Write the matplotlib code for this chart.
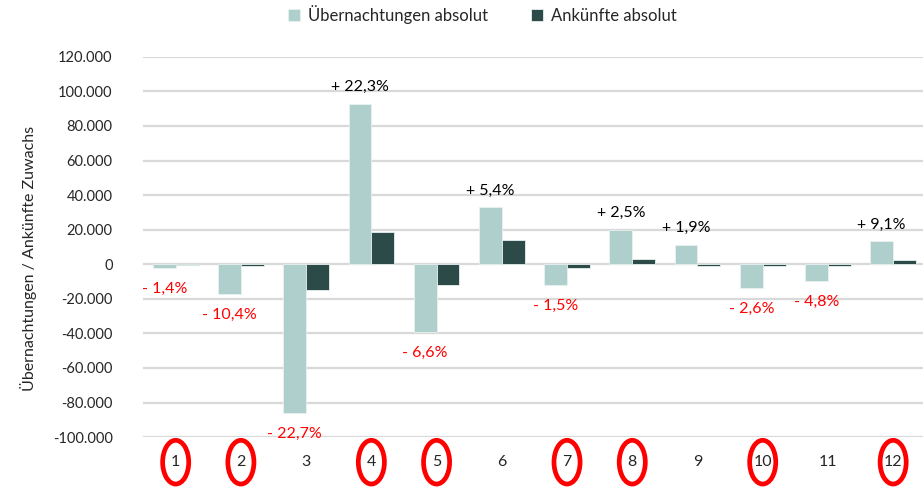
import matplotlib
matplotlib.use("Agg")
import matplotlib.pyplot as plt
from matplotlib.patches import Ellipse
from matplotlib.ticker import FuncFormatter
import numpy as np

plt.rcParams["font.family"] = ["Lato", "DejaVu Sans"]

# data
months = ["1", "2", "3", "4", "5", "6", "7", "8", "9", "10", "11", "12"]
uebernachtungen = [-2000, -17000, -86000, 92800, -39200, 33000,
                   -11800, 20100, 11200, -13500, -9800, 13200]
ankuenfte = [-300, -1000, -14700, 18500, -11800, 14000,
             -2000, 3300, -1000, -1000, -1000, 2300]
pct_labels = ["- 1,4%", "- 10,4%", "- 22,7%", "+ 22,3%", "- 6,6%", "+ 5,4%",
              "- 1,5%", "+ 2,5%", "+ 1,9%", "- 2,6%", "- 4,8%", "+ 9,1%"]
circled = ["1", "2", "4", "5", "7", "8", "10", "12"]

light = "#AECFCB"
dark = "#2C4B48"
grid_col = "#D9D9D9"

fig = plt.figure(figsize=(9.23, 4.90), dpi=100)
ax = fig.add_axes([0.155, 0.108, 0.848, 0.776])

x = np.arange(1, len(months) + 1)
w = 0.35
ax.bar(x - w / 2, uebernachtungen, width=w, color=light,
       edgecolor="#E8F1F0", linewidth=0.6, label="Übernachtungen absolut", zorder=3)
ax.bar(x + w / 2, ankuenfte, width=w, color=dark,
       edgecolor="#E8F1F0", linewidth=0.6, label="Ankünfte absolut", zorder=3)

ax.set_xlim(0.5, 12.5)
ax.set_ylim(-100000, 120000)
ax.set_yticks(np.arange(-100000, 120001, 20000))
ax.yaxis.set_major_formatter(
    FuncFormatter(lambda v, p: f"{int(v):,}".replace(",", ".")))
ax.yaxis.grid(True, color=grid_col, linewidth=1.6, zorder=0)
ax.set_axisbelow(True)
for s in ax.spines.values():
    s.set_visible(False)
ax.tick_params(axis="y", length=0, labelsize=10.5, pad=22, colors="#262626")
ax.tick_params(axis="x", length=0, labelsize=11.5, pad=13, colors="#262626")
ax.set_xticks(x)
ax.set_xticklabels(months)
ax.set_ylabel("Übernachtungen / Ankünfte Zuwachs", fontsize=11.5,
              color="#262626")
ax.yaxis.set_label_coords(-0.136, 0.47)

# percentage labels above / below the light bars
for xi, val, lab in zip(x, uebernachtungen, pct_labels):
    if val < 0:
        ax.annotate(lab, (xi - w / 2, val), xytext=(0, -15),
                    textcoords="offset points", ha="center", va="center",
                    color="#FF0000", fontsize=11.5)
    else:
        ax.annotate(lab, (xi - w / 2, val), xytext=(0, 12),
                    textcoords="offset points", ha="center", va="center",
                    color="black", fontsize=11.5)

# red circles around some month labels
trans = ax.get_xaxis_transform()
for m in circled:
    xi = months.index(m) + 1
    e = Ellipse((xi, -0.066), width=0.40, height=0.115, transform=trans,
                fill=False, edgecolor="#FF0000", linewidth=3.4, clip_on=False)
    ax.add_patch(e)

fig.legend(loc="upper left", bbox_to_anchor=(283 / 923, 1.0), ncol=2,
           frameon=False, fontsize=12, handlelength=0.7, handleheight=0.7,
           columnspacing=2.6, handletextpad=0.5, borderaxespad=0.0,
           borderpad=0.3, labelcolor="#262626")

fig.savefig("out.png", dpi=100)
